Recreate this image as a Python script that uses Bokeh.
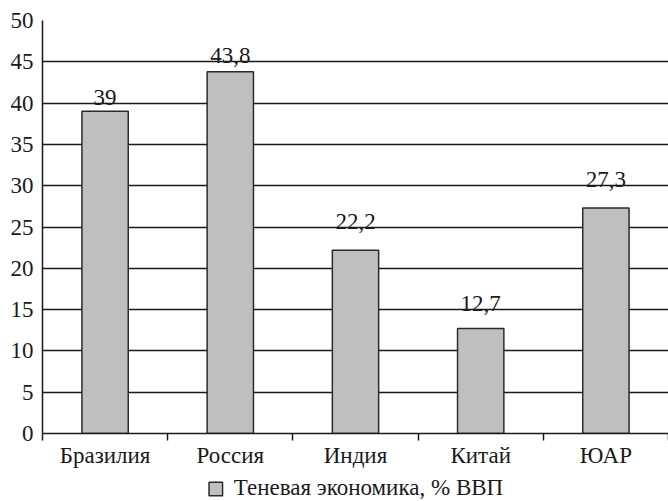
import numpy as np
from bokeh.plotting import figure
from bokeh.layouts import column
from bokeh.models import ColumnDataSource, FixedTicker, Range1d, Legend, LegendItem
from bokeh.embed import file_html
from bokeh.resources import INLINE

categories = ["Бразилия", "Россия", "Индия", "Китай", "ЮАР"]
values = [39, 43.8, 22.2, 12.7, 27.3]
value_labels = ["39", "43,8", "22,2", "12,7", "27,3"]
y_ticks = [0, 5, 10, 15, 20, 25, 30, 35, 40, 45, 50]
series_name = "Теневая экономика, % ВВП"

FONT = "Liberation Serif"
FS = "23px"
BAR_FILL = "#bebfc1"
BAR_LINE = "#2b2b2b"
xpos = np.arange(len(categories)) + 0.5
# labels sit just above the next grid line over each bar
label_y = np.ceil(np.array(values) / 5) * 5

src = ColumnDataSource(dict(x=xpos, top=values, lab=value_labels, ly=label_y))

p = figure(frame_width=626, frame_height=413, output_backend="svg", toolbar_location=None,
           x_range=Range1d(0, len(categories)), y_range=Range1d(0, 50),
           min_border_left=42, min_border_right=0, min_border_top=20, min_border_bottom=0)
p.outline_line_color = None
p.background_fill_color = "white"

r = p.vbar(x="x", top="top", width=0.37, bottom=0, source=src,
           fill_color=BAR_FILL, line_color=BAR_LINE, line_width=1.5)

p.text(x="x", y="ly", text="lab", source=src, text_align="center", text_baseline="alphabetic",
       y_offset=-6, text_font_size=FS, text_color="#1a1a1a",
       text_font={"value": FONT})

# y axis
p.yaxis.ticker = FixedTicker(ticks=y_ticks)
p.yaxis.major_tick_out = 0
p.yaxis.major_tick_in = 0
p.yaxis.major_tick_line_color = None
p.yaxis.minor_tick_line_color = None
p.yaxis.axis_line_color = "#1a1a1a"
p.yaxis.axis_line_width = 1.5
p.yaxis.major_label_text_font = FONT
p.yaxis.major_label_text_font_size = FS
p.yaxis.major_label_text_color = "#1a1a1a"
p.yaxis.major_label_standoff = 9

# x axis
p.xaxis.ticker = FixedTicker(ticks=list(xpos), minor_ticks=list(range(len(categories) + 1)))
p.xaxis.major_label_overrides = {float(x): c for x, c in zip(xpos, categories)}
p.xaxis.major_tick_out = 0
p.xaxis.major_tick_in = 0
p.xaxis.major_tick_line_color = None
p.xaxis.minor_tick_out = 7
p.xaxis.minor_tick_in = 0
p.xaxis.minor_tick_line_color = "#1a1a1a"
p.xaxis.minor_tick_line_width = 1.5
p.xaxis.axis_line_color = "#1a1a1a"
p.xaxis.axis_line_width = 1.5
p.xaxis.major_label_text_font = FONT
p.xaxis.major_label_text_font_size = FS
p.xaxis.major_label_text_color = "#1a1a1a"
p.xaxis.major_label_standoff = 2

p.xgrid.grid_line_color = None
p.ygrid.ticker = FixedTicker(ticks=y_ticks)
p.ygrid.grid_line_color = "#1a1a1a"
p.ygrid.grid_line_width = 1.5

# legend strip below the chart (its bars lie outside its view; only the swatch shows)
lf = figure(width=668, height=34, output_backend="svg", toolbar_location=None,
            x_axis_location=None, y_axis_location=None, min_border=0,
            x_range=Range1d(0, len(categories)), y_range=Range1d(1000, 1001))
lf.outline_line_color = None
lf.xgrid.grid_line_color = None
lf.ygrid.grid_line_color = None
lr = lf.vbar(x="x", top="top", width=0.37, bottom=0, source=src,
             fill_color=BAR_FILL, line_color=BAR_LINE, line_width=1.5)

legend = Legend(items=[LegendItem(label=series_name, renderers=[lr])], location="bottom_center",
                orientation="horizontal", label_text_font=FONT, label_text_font_size=FS,
                label_text_color="#1a1a1a", border_line_color=None, background_fill_alpha=0,
                padding=0, margin=3, glyph_width=17, glyph_height=17, label_standoff=10,
                label_height=20)
lf.add_layout(legend)

layout = column(p, lf, spacing=0)
open("out.html", "w").write(file_html(layout, INLINE))
